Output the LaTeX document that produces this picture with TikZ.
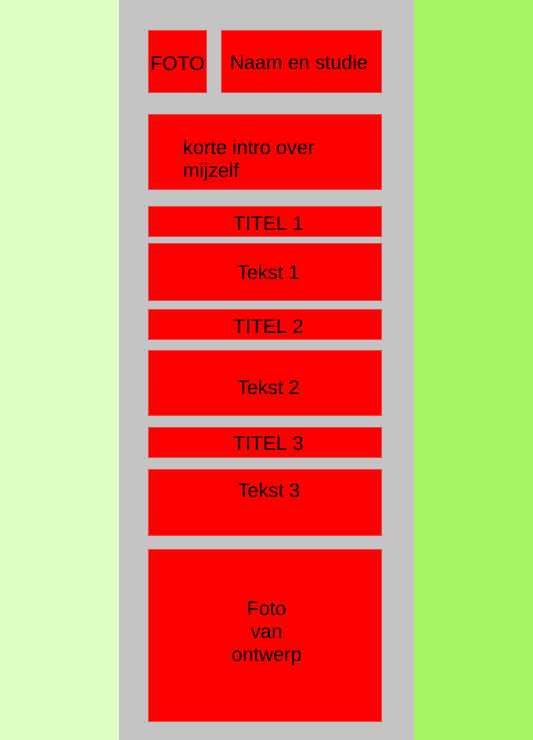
\documentclass[tikz,border=0pt]{standalone}
\usepackage{fontspec}
\setmainfont{Liberation Sans}
\definecolor{leftbg}{RGB}{221,255,198}
\definecolor{rightbg}{RGB}{165,245,98}
\definecolor{panel}{RGB}{196,196,196}
\definecolor{boxfill}{RGB}{255,0,0}
\definecolor{boxline}{RGB}{228,72,72}
\begin{document}
\begin{tikzpicture}[x=1pt,y=-1pt,
  block/.style={fill=boxfill,draw=boxline,line width=0.7pt},
  lbl/.style={anchor=base,inner sep=0pt,font=\fontsize{19.7}{23}\selectfont,text=black}]
\useasboundingbox (0,0) rectangle (533,740);
\fill[leftbg] (0,0) rectangle (119,740);
\fill[panel] (119,0) rectangle (414,740);
\fill[rightbg] (414,0) rectangle (533,740);
% boxes
\draw[block] (148.5,30.5) rectangle (206.5,92.5);
\draw[block] (221,30.5) rectangle (381.5,92.5);
\draw[block] (148.5,114.5) rectangle (381.5,189.5);
\draw[block] (148.5,206.5) rectangle (381.5,236);
\draw[block] (148.5,243.5) rectangle (381.5,300);
\draw[block] (148.5,309.5) rectangle (381.5,339.5);
\draw[block] (148.5,350) rectangle (381.5,415.5);
\draw[block] (148.5,427) rectangle (381.5,457);
\draw[block] (148.5,469) rectangle (381.5,535);
\draw[block] (148.5,549) rectangle (381.5,721);
% labels
\node[lbl] (foto) at (177.5,70.5) {FOTO};
\node[lbl] (naam) at (299,69.5) {Naam en studie};
\node[lbl,anchor=base west] (intro1) at (183,154.5) {korte intro over};
\node[lbl,anchor=base west] (intro2) at (183,177) {mijzelf};
\node[lbl] (t1) at (268.5,230) {TITEL 1};
\node[lbl] (x1) at (268.5,279.5) {Tekst 1};
\node[lbl] (t2) at (268.5,333.5) {TITEL 2};
\node[lbl] (x2) at (268.5,394) {Tekst 2};
\node[lbl] (t3) at (268.5,450.5) {TITEL 3};
\node[lbl] (x3) at (269,497.5) {Tekst 3};
\node[lbl] (f1) at (266.7,615) {Foto};
\node[lbl] (f2) at (266.7,638.3) {van};
\node[lbl] (f3) at (266.7,661) {ontwerp};
\end{tikzpicture}
\end{document}
